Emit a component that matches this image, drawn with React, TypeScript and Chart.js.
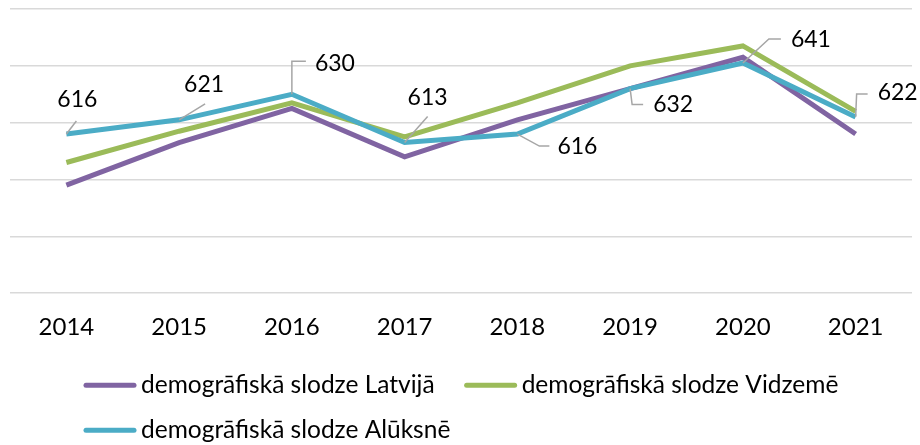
import React, { useEffect, useRef } from "react";
import { Chart, registerables } from "chart.js";

Chart.register(...registerables);

const years = ["2014", "2015", "2016", "2017", "2018", "2019", "2020", "2021"];
const latvija = [598, 613, 625, 608, 621, 632, 643, 616];
const vidzeme = [606, 617, 627, 615, 627, 640, 647, 624];
const aluksne = [616, 621, 630, 613, 616, 632, 641, 622];
const seriesNames = [
  "demogrāfiskā slodze Latvijā",
  "demogrāfiskā slodze Vidzemē",
  "demogrāfiskā slodze Alūksnē",
];
const seriesColors = ["#8064A2", "#9BBB59", "#4BACC6"];
const yMin = 560;
const yMax = 660;
const yStep = 20;

const FONT = "Lato, 'Open Sans', sans-serif";

// leader-line / label placement for the Alūksne data labels (relative to point)
const labelLayout: { path: number[][]; tx: number; ty: number; align: CanvasTextAlign }[] = [
  { path: [[10, -13]], tx: 11, ty: -34, align: "center" },
  { path: [[26, -16]], tx: 25, ty: -35, align: "center" },
  { path: [[0, -33], [14, -33]], tx: 23, ty: -31, align: "left" },
  { path: [[23, -26]], tx: 23, ty: -45, align: "center" },
  { path: [[22, 12], [32, 12]], tx: 40, ty: 13, align: "left" },
  { path: [[2, 16], [13, 16]], tx: 23, ty: 16, align: "left" },
  { path: [[26, -24], [38, -24]], tx: 48, ty: -23, align: "left" },
  { path: [[1, -23], [12, -23]], tx: 22, ty: -24, align: "left" },
];

const dataLabelPlugin = {
  id: "dataLabels",
  afterDatasetsDraw(chart: any) {
    const ctx = chart.ctx;
    const meta = chart.getDatasetMeta(2);
    ctx.save();
    meta.data.forEach((pt: any, i: number) => {
      const lay = labelLayout[i];
      const x = pt.x;
      const y = pt.y;
      ctx.strokeStyle = "#A6A6A6";
      ctx.lineWidth = 1.5;
      ctx.beginPath();
      ctx.moveTo(x, y);
      lay.path.forEach(([dx, dy]) => ctx.lineTo(x + dx, y + dy));
      ctx.stroke();
      ctx.fillStyle = "#000000";
      ctx.font = `23px ${FONT}`;
      ctx.textAlign = lay.align;
      ctx.textBaseline = "middle";
      ctx.fillText(String(aluksne[i]), x + lay.tx, y + lay.ty);
    });
    ctx.restore();
  },
};

const legendPlugin = {
  id: "customLegend",
  afterDraw(chart: any) {
    const ctx = chart.ctx;
    const area = chart.chartArea;
    const rows = [area.bottom + 92, area.bottom + 137];
    const startX = 84;
    const lineLen = 52;
    const gap = 5;
    const itemGap = 30;
    ctx.save();
    ctx.font = `24.5px ${FONT}`;
    ctx.textBaseline = "middle";
    ctx.textAlign = "left";
    let x = startX;
    let row = 0;
    seriesNames.forEach((name, i) => {
      const w = lineLen + gap + ctx.measureText(name).width;
      if (x + w > chart.width - 20 && x > startX) {
        row += 1;
        x = startX;
      }
      const y = rows[row];
      ctx.strokeStyle = seriesColors[i];
      ctx.lineWidth = 5;
      ctx.lineCap = "round";
      ctx.beginPath();
      ctx.moveTo(x + 2, y);
      ctx.lineTo(x + lineLen - 2, y);
      ctx.stroke();
      ctx.fillStyle = "#000000";
      ctx.fillText(name, x + lineLen + gap, y);
      x += w + itemGap;
    });
    ctx.restore();
  },
};

export default function App() {
  const ref = useRef<HTMLCanvasElement | null>(null);
  useEffect(() => {
    if (!ref.current) return;
    const mk = (i: number, data: number[], order: number) => ({
      label: seriesNames[i],
      data,
      borderColor: seriesColors[i],
      backgroundColor: seriesColors[i],
      borderWidth: 5,
      pointRadius: 0,
      tension: 0,
      order,
    });
    const chart = new Chart(ref.current, {
      type: "line",
      data: {
        labels: years,
        datasets: [mk(0, latvija, 3), mk(1, vidzeme, 2), mk(2, aluksne, 1)],
      },
      options: {
        animation: false,
        responsive: true,
        maintainAspectRatio: false,
        layout: { padding: { top: 9, left: 10, right: 8, bottom: 83 } },
        plugins: {
          legend: { display: false },
          tooltip: { enabled: false },
        },
        scales: {
          x: {
            offset: true,
            grid: { display: false, drawTicks: false },
            border: { display: false },
            ticks: {
              color: "#000000",
              font: { family: FONT, size: 24 },
              padding: 20,
              maxRotation: 0,
            },
          },
          y: {
            min: yMin,
            max: yMax,
            grid: { color: "#D9D9D9", lineWidth: 1.5, drawTicks: false },
            border: { display: false },
            ticks: { display: false, stepSize: yStep },
          },
        },
      },
      plugins: [dataLabelPlugin, legendPlugin],
    });
    return () => chart.destroy();
  }, []);
  return (
    <div
      style={{
        position: "fixed",
        left: 0,
        top: 0,
        width: "920px",
        height: "445px",
        background: "#FFFFFF",
      }}
    >
      <canvas ref={ref} />
    </div>
  );
}
